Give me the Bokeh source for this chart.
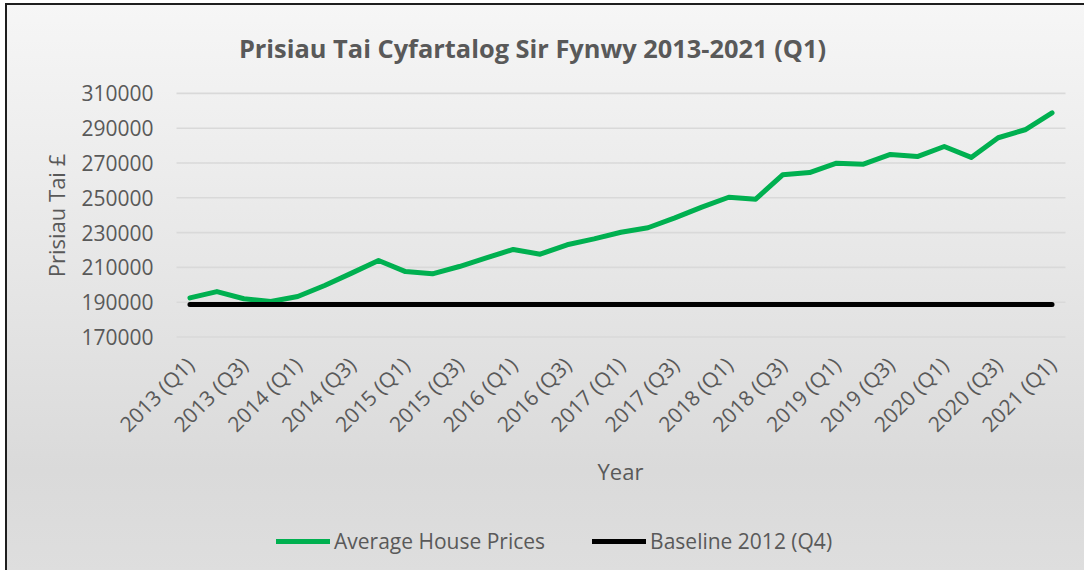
from bokeh.plotting import figure
from bokeh.models import Range1d, FixedTicker, Legend, LegendItem, Label, BasicTickFormatter
from bokeh.embed import file_html
from bokeh.resources import INLINE
from math import pi

# ---- data ----
quarters = [
    "2013 (Q1)", "2013 (Q2)", "2013 (Q3)", "2013 (Q4)",
    "2014 (Q1)", "2014 (Q2)", "2014 (Q3)", "2014 (Q4)",
    "2015 (Q1)", "2015 (Q2)", "2015 (Q3)", "2015 (Q4)",
    "2016 (Q1)", "2016 (Q2)", "2016 (Q3)", "2016 (Q4)",
    "2017 (Q1)", "2017 (Q2)", "2017 (Q3)", "2017 (Q4)",
    "2018 (Q1)", "2018 (Q2)", "2018 (Q3)", "2018 (Q4)",
    "2019 (Q1)", "2019 (Q2)", "2019 (Q3)", "2019 (Q4)",
    "2020 (Q1)", "2020 (Q2)", "2020 (Q3)", "2020 (Q4)",
    "2021 (Q1)",
]
prices = [
    192500, 196100, 192000, 190400,
    193300, 199600, 206700, 214000,
    207600, 206300, 210500, 215500,
    220300, 217600, 223000, 226400,
    230200, 232800, 238500, 244600,
    250300, 249200, 263200, 264500,
    269900, 269300, 274900, 273700,
    279500, 273200, 284500, 289100,
    298800,
]
baseline_value = 188700
baseline = [baseline_value] * len(quarters)
y_ticks = [170000, 190000, 210000, 230000, 250000, 270000, 290000, 310000]
series_names = ["Average House Prices", "Baseline 2012 (Q4)"]
title_text = "Prisiau Tai Cyfartalog Sir Fynwy 2013-2021 (Q1)"
y_title = "Prisiau Tai £"
x_title = "Year"

TEXT = "#595959"
FONT = "Open Sans"

# ---- layout geometry (canvas pixels) ----
W, H = 1084, 570
PLOT_L, PLOT_R = 176, 1065            # plot area left / right
CAT_W = (PLOT_R - PLOT_L) / len(quarters)
Y_REF_VAL, Y_REF_PX = 190000, 301.7   # value and its pixel row
PX_PER_UNIT = 34.8 / 20000
x_start = -0.5 - PLOT_L / CAT_W
x_end = -0.5 + (W - PLOT_L) / CAT_W
y_end = Y_REF_VAL + Y_REF_PX / PX_PER_UNIT
y_start = Y_REF_VAL - (H - Y_REF_PX) / PX_PER_UNIT
X_LO, X_HI = -0.5, len(quarters) - 0.5

xs = list(range(len(quarters)))
x_tick_idx = xs[::2]

p = figure(
    width=W, height=H,
    output_backend="svg", toolbar_location=None,
    x_range=Range1d(x_start, x_end),
    y_range=Range1d(y_start, y_end),
    min_border=0,
)
p.styles = {
    "background": (
        "linear-gradient(#1e1e1e,#1e1e1e) 5px 3px / 2px 100% no-repeat, "
        "linear-gradient(#1e1e1e,#1e1e1e) 5px 3px / 100% 2px no-repeat, "
        "linear-gradient(to bottom, #f6f6f6 0%, #e7e7e7 45%, #dadada 82%, #dedede 100%) 5px 3px / 100% 100% no-repeat, "
        "#ffffff"
    ),
}
p.background_fill_alpha = 0
p.border_fill_alpha = 0
p.outline_line_color = None
p.xgrid.visible = False
p.ygrid.visible = False

# horizontal gridlines across the plot area
p.segment(x0=[X_LO] * len(y_ticks), x1=[X_HI] * len(y_ticks), y0=y_ticks, y1=y_ticks,
          line_color="#d9d9d9", line_width=1.6)

r1 = p.line(xs, prices, line_color="#00b050", line_width=5, line_cap="round", line_join="round")
r2 = p.line(xs, baseline, line_color="#000000", line_width=5, line_cap="round")

# y axis (at the plot-area left edge)
p.yaxis.fixed_location = X_LO
p.yaxis.bounds = (y_ticks[0], y_ticks[-1])
p.yaxis.ticker = FixedTicker(ticks=y_ticks)
p.yaxis.formatter = BasicTickFormatter(use_scientific=False)
p.yaxis.axis_line_color = None
p.yaxis.major_tick_line_color = None
p.yaxis.minor_tick_line_color = None
p.yaxis.major_tick_out = 0
p.yaxis.major_label_standoff = 23
p.yaxis.major_label_text_font = FONT
p.yaxis.major_label_text_font_size = "21px"
p.yaxis.major_label_text_color = TEXT

# x axis (at the bottom of the value scale)
p.xaxis.fixed_location = y_ticks[0]
p.xaxis.bounds = (X_LO, X_HI)
p.xaxis.ticker = FixedTicker(ticks=x_tick_idx)
p.xaxis.major_label_overrides = {i: quarters[i] for i in x_tick_idx}
p.xaxis.major_label_orientation = pi / 4
p.xaxis.axis_line_color = None
p.xaxis.major_tick_line_color = None
p.xaxis.minor_tick_line_color = None
p.xaxis.major_tick_out = 0
p.xaxis.major_label_standoff = 24
p.xaxis.major_label_text_font = FONT
p.xaxis.major_label_text_font_size = "21px"
p.xaxis.major_label_text_color = TEXT


def screen_label(text, x, y, size, bold=False, angle=0.0):
    # x from the left, y from the top of the canvas
    return Label(
        x=x, y=H - y, x_units="screen", y_units="screen", angle=angle,
        text=text, text_align="center", text_baseline="middle",
        text_font=FONT, text_font_style="bold" if bold else "normal",
        text_font_size=size, text_color=TEXT,
    )


p.add_layout(screen_label(title_text, 532, 47, "25.4px", bold=True))
p.add_layout(screen_label(y_title, 55, 215, "22px", angle=pi / 2))
p.add_layout(screen_label(x_title, 620, 470, "22px"))

legend = Legend(
    items=[LegendItem(label=series_names[0], renderers=[r1]),
           LegendItem(label=series_names[1], renderers=[r2])],
    orientation="horizontal",
    location=(276, H - 555),
    padding=0, margin=0, spacing=47,
    glyph_width=54, glyph_height=24, label_standoff=4,
    label_text_font=FONT, label_text_font_size="21px", label_text_color=TEXT,
    background_fill_alpha=0, border_line_color=None,
)
p.add_layout(legend)

open("out.html", "w").write(file_html(p, INLINE))
